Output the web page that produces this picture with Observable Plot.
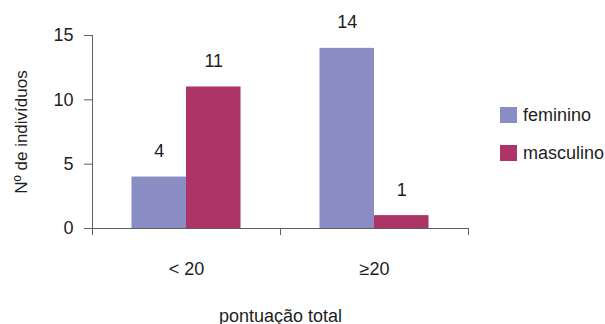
<!DOCTYPE html>
<html>
<head>
<meta charset="utf-8">
<script src="https://cdn.jsdelivr.net/npm/d3@7"></script>
<script src="https://cdn.jsdelivr.net/npm/@observablehq/plot@0.6"></script>
<style>
  html, body { margin: 0; padding: 0; background: #fff; }
  #chart { position: relative; width: 605px; height: 324px; font-family: "Liberation Sans", Arial, sans-serif; color: #1e1e1e; }
  #chart svg { display: block; }
  .legend { position: absolute; left: 500px; top: 107px; font-size: 18px; }
  .legend .item { display: flex; align-items: center; height: 16px; margin-bottom: 22px; white-space: nowrap; }
  .legend .sw { width: 17px; height: 16px; margin-right: 6px; flex: none; }
</style>
</head>
<body>
<div id="chart"></div>
<script>
// Respondents by total score band and sex
const groups = ["< 20", "≥20"];
const sexes = ["feminino", "masculino"];
const feminino = [4, 14];
const masculino = [11, 1];
const colors = ["#8a8cc4", "#ad3467"];
const yTicks = [0, 5, 10, 15];
const yLabel = "Nº de indivíduos";
const xLabel = "pontuação total";

const series = [feminino, masculino];
const rows = [];
groups.forEach((g, gi) => sexes.forEach((s, si) => rows.push({group: g, sex: s, gi, si, value: series[si][gi]})));

// each group occupies one unit on x; bars sit side by side in the middle
const groupInset = 0.21;
const barWidth = 0.29;
const barX1 = d => d.gi + groupInset + d.si * barWidth;
const barX2 = d => barX1(d) + barWidth;
const barMid = d => barX1(d) + barWidth / 2;

const axisColor = "#5f5f5f";

const chart = Plot.plot({
  width: 605,
  height: 324,
  marginLeft: 92,
  marginRight: 137,
  marginTop: 35,
  marginBottom: 96,
  style: {fontFamily: "Liberation Sans, Arial, sans-serif", fontSize: "18px", color: "#1e1e1e", background: "#fff"},
  x: {type: "linear", domain: [0, groups.length], axis: null},
  y: {domain: [0, 15], axis: null},
  color: {domain: sexes, range: colors},
  marks: [
    Plot.rectY(rows, {x1: barX1, x2: barX2, y: "value", fill: "sex"}),
    Plot.ruleY([0], {stroke: axisColor}),
    Plot.ruleX([0], {y1: 15, y2: 0, insetBottom: -7, stroke: axisColor}),
    Plot.ruleX(d3.range(groups.length + 1), {y1: 0, y2: 0, insetBottom: -7, stroke: axisColor}),
    Plot.axisY(yTicks, {tickSize: 8, tickPadding: 11, stroke: axisColor, label: null, fontSize: 18}),
    Plot.text(rows, {x: barMid, y: "value", text: "value", dy: -20, lineAnchor: "bottom", fontSize: 18}),
    Plot.text(groups, {x: (d, i) => i + 0.5, y: 0, text: d => d, dy: 46, lineAnchor: "bottom", fontSize: 18}),
    Plot.text([xLabel], {x: groups.length / 2, y: 0, text: d => d, dy: 93, lineAnchor: "bottom", fontSize: 18}),
    Plot.text([yLabel], {x: 0, y: 7.5, text: d => d, rotate: -90, dx: -71, lineAnchor: "middle", fontSize: 17})
  ]
});

const root = document.getElementById("chart");
root.appendChild(chart);

const legend = document.createElement("div");
legend.className = "legend";
sexes.forEach((s, i) => {
  const item = document.createElement("div");
  item.className = "item";
  const sw = document.createElement("span");
  sw.className = "sw";
  sw.style.background = colors[i];
  const label = document.createElement("span");
  label.textContent = s;
  item.append(sw, label);
  legend.appendChild(item);
});
root.appendChild(legend);
</script>
</body>
</html>
